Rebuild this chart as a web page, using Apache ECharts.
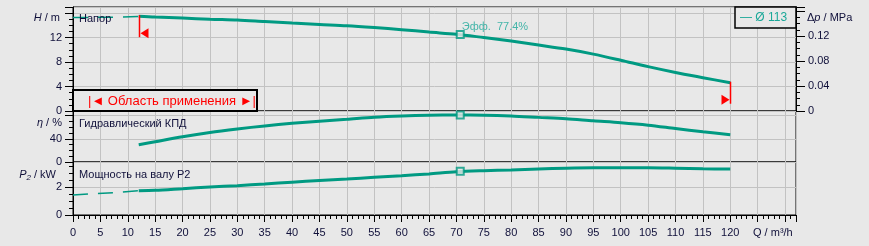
<!DOCTYPE html>
<html>
<head>
<meta charset="utf-8">
<script src="https://cdn.jsdelivr.net/npm/echarts@6/dist/echarts.min.js"></script>
<style>
  html, body { margin: 0; padding: 0; background: #e8e8e8; }
  #chart { width: 869px; height: 246px; }
</style>
</head>
<body>
<div id="chart"></div>
<script>
// pump curves Ø 113: head, hydraulic efficiency, shaft power vs flow
var qMain = [12, 15, 20, 25, 30, 35, 40, 45, 50, 55, 60, 65, 70, 75, 80, 85, 90, 95, 100, 105, 110, 115, 120];
var headMain = [15.5, 15.35, 15.2, 15.0, 14.86, 14.61, 14.37, 14.15, 13.95, 13.65, 13.3, 12.9, 12.55, 12.0, 11.43, 10.78, 10.12, 9.3, 8.3, 7.25, 6.3, 5.45, 4.62];
var effMain = [29.8, 35, 43.6, 51, 57, 62.3, 66.7, 70.5, 73.8, 77.3, 79.4, 80.6, 81, 80.8, 79.5, 77, 74.5, 71, 67.8, 63.6, 57.8, 52.2, 47];
var powerMain = [1.75, 1.78, 1.9, 2.02, 2.12, 2.24, 2.37, 2.49, 2.6, 2.72, 2.84, 2.97, 3.12, 3.2, 3.26, 3.32, 3.38, 3.41, 3.41, 3.41, 3.38, 3.34, 3.32];

// part of the curve outside the application range
var qLow = [0, 4, 8, 12];
var headLow = [15.3, 15.3, 15.35, 15.45];
var powerLow = [1.44, 1.55, 1.63, 1.75];

// duty point
var dutyQ = 70.7;
var dutyH = 12.5;
var dutyEta = 81;
var dutyP2 = 3.16;
var dutyText = 'Эфф.  77.4%';

// tick labels
var qLabelMax = 120;
var headLabels = [0, 4, 8, 12];
var dpLabels = [0, 0.04, 0.08, 0.12];
var effLabels = [0, 40];
var powerLabels = [0, 2];

var FONT = '"Liberation Sans", Arial, sans-serif';
var TEAL = '#009a82';
var TEAL_TXT = '#1aa898';
var GRID_C = '#c2c2c2';
var TXT = '#10103a';
var FS = 11;

function pairs(xs, ys) {
  return xs.map(function (x, i) { return [x, ys[i]]; });
}

function inList(list, v) {
  for (var i = 0; i < list.length; i++) {
    if (Math.abs(list[i] - v) < 1e-6) return true;
  }
  return false;
}

function xMain(grid, labels) {
  return {
    type: 'value', gridIndex: grid, min: 0, max: 132, interval: 5,
    axisLine: { show: labels, lineStyle: { color: '#000' } },
    axisTick: { show: labels, length: 7, lineStyle: { color: '#000' } },
    axisLabel: {
      show: labels, margin: 12, color: TXT, fontSize: FS, fontFamily: FONT,
      formatter: function (v) { return v <= qLabelMax ? String(v) : ''; }
    },
    splitLine: { show: true, lineStyle: { color: GRID_C } }
  };
}

function yMain(grid, pos, max, step, list, fmt, tickLen) {
  return {
    type: 'value', gridIndex: grid, position: pos, min: 0, max: max, interval: step,
    axisLine: { show: true, lineStyle: { color: '#000' } },
    axisTick: { show: true, length: tickLen, lineStyle: { color: '#000' } },
    axisLabel: {
      margin: pos === 'left' ? 11 : 12, color: TXT, fontSize: FS, fontFamily: FONT,
      formatter: function (v) { return inList(list, v) ? fmt(v) : ''; }
    },
    splitLine: { show: pos === 'left', lineStyle: { color: GRID_C } }
  };
}

// second axis on the same side, only for the short ticks
function yMinor(grid, pos, max, step) {
  return {
    type: 'value', gridIndex: grid, position: pos, min: 0, max: max, interval: step,
    axisLine: { show: false },
    axisTick: { show: true, length: 4, lineStyle: { color: '#000' } },
    axisLabel: { show: false },
    splitLine: { show: false }
  };
}

function num(v) { return String(v); }
function mpa(v) { return v === 0 ? '0' : v.toFixed(2); }

function italicTitle(x, y, text, align) {
  return {
    type: 'text', z: 11, x: x, y: y,
    style: {
      text: text, align: align, verticalAlign: 'middle', fill: TXT, fontSize: FS, fontFamily: FONT,
      rich: {
        i: { fontStyle: 'italic', fontSize: FS, fontFamily: FONT, fill: TXT },
        s: { fontStyle: 'italic', fontSize: 8, fontFamily: FONT, fill: TXT, padding: [5, 0, 0, 0] }
      }
    }
  };
}

var chart = echarts.init(document.getElementById('chart'));

var option = {
  backgroundColor: '#e8e8e8',
  animation: false,
  grid: [
    { left: 73, right: 73, top: 7, height: 104, show: true, borderColor: '#000', borderWidth: 1 },
    { left: 73, right: 73, top: 111, height: 51, show: true, borderColor: '#000', borderWidth: 1 },
    { left: 73, right: 73, top: 162, height: 53, show: true, borderColor: '#000', borderWidth: 1 }
  ],
  xAxis: [
    xMain(0, false),
    xMain(1, false),
    xMain(2, true),
    {
      type: 'value', gridIndex: 2, position: 'bottom', min: 0, max: 132, interval: 1,
      axisLine: { show: false },
      axisTick: { show: true, length: 4, lineStyle: { color: '#000' } },
      axisLabel: { show: false },
      splitLine: { show: false }
    }
  ],
  yAxis: [
    yMain(0, 'left', 17, 4, headLabels, num, 8),
    yMinor(0, 'left', 17, 1),
    yMain(0, 'right', 0.1666, 0.04, dpLabels, mpa, 9),
    yMinor(0, 'right', 0.1666, 0.01),
    yMain(1, 'left', 88, 40, effLabels, num, 8),
    yMinor(1, 'left', 88, 10),
    yMain(2, 'left', 3.83, 2, powerLabels, num, 8),
    yMinor(2, 'left', 3.83, 0.5)
  ],
  series: [
    {
      name: 'H low', type: 'line', xAxisIndex: 0, yAxisIndex: 0, data: pairs(qLow, headLow),
      showSymbol: false, lineStyle: { color: TEAL, width: 1.5, type: [15, 10] }
    },
    {
      name: 'Ø 113', type: 'line', xAxisIndex: 0, yAxisIndex: 0, data: pairs(qMain, headMain),
      showSymbol: false, smooth: 0.3, lineStyle: { color: TEAL, width: 3 }
    },
    {
      name: 'eta', type: 'line', xAxisIndex: 1, yAxisIndex: 4, data: pairs(qMain, effMain),
      showSymbol: false, smooth: 0.3, lineStyle: { color: TEAL, width: 3 }
    },
    {
      name: 'P2 low', type: 'line', xAxisIndex: 2, yAxisIndex: 6, data: pairs(qLow, powerLow),
      showSymbol: false, lineStyle: { color: TEAL, width: 1.5, type: [15, 10] }
    },
    {
      name: 'P2', type: 'line', xAxisIndex: 2, yAxisIndex: 6, data: pairs(qMain, powerMain),
      showSymbol: false, smooth: 0.3, lineStyle: { color: TEAL, width: 3 }
    },
    {
      type: 'scatter', xAxisIndex: 0, yAxisIndex: 0, data: [[dutyQ, dutyH]], z: 5,
      symbol: 'rect', symbolSize: 7,
      itemStyle: { color: '#e8e8e8', borderColor: TEAL, borderWidth: 2 },
      label: {
        show: true, position: [6, -9], formatter: dutyText,
        color: TEAL_TXT, fontSize: FS, fontFamily: FONT
      }
    },
    {
      type: 'scatter', xAxisIndex: 1, yAxisIndex: 4, data: [[dutyQ, dutyEta]], z: 5,
      symbol: 'rect', symbolSize: 7,
      itemStyle: { color: '#e8e8e8', borderColor: TEAL, borderWidth: 2 }
    },
    {
      type: 'scatter', xAxisIndex: 2, yAxisIndex: 6, data: [[dutyQ, dutyP2]], z: 5,
      symbol: 'rect', symbolSize: 7,
      itemStyle: { color: '#e8e8e8', borderColor: TEAL, borderWidth: 2 }
    },
    {
      // red limits of the application range
      type: 'custom', xAxisIndex: 0, yAxisIndex: 0, z: 6,
      data: [
        [qMain[0], headMain[0], -1],
        [qMain[qMain.length - 1], headMain[headMain.length - 1], 1]
      ],
      renderItem: function (params, api) {
        var p = api.coord([api.value(0), api.value(1)]);
        var d = api.value(2);
        var x = Math.round(p[0]) + 0.5;
        var y0 = p[1] - 1;
        return {
          type: 'group',
          children: [
            { type: 'line', shape: { x1: x, y1: y0, x2: x, y2: y0 + 22 }, style: { stroke: '#ff0000', lineWidth: 1.5 } },
            {
              type: 'polygon',
              shape: { points: [[x - d, y0 + 18], [x - d * 9, y0 + 13], [x - d * 9, y0 + 23]] },
              style: { fill: '#ff0000' }
            }
          ]
        };
      }
    }
  ],
  graphic: [
    { type: 'rect', z: 10, shape: { x: 73, y: 90, width: 184, height: 21 }, style: { fill: '#e8e8e8', stroke: '#000', lineWidth: 2 } },
    { type: 'text', z: 11, x: 88, y: 101, style: { text: '|◄ Область применения ►|', fill: '#ff0000', font: '13px ' + FONT, verticalAlign: 'middle' } },

    { type: 'rect', z: 10, shape: { x: 735, y: 7, width: 61, height: 21 }, style: { fill: '#e8e8e8', stroke: '#000', lineWidth: 1.5 } },
    { type: 'text', z: 11, x: 740, y: 17.5, style: { text: '— Ø 113', fill: TEAL_TXT, font: '12px ' + FONT, verticalAlign: 'middle' } },

    { type: 'text', z: 11, x: 79, y: 19, style: { text: 'Напор', fill: TXT, font: FS + 'px ' + FONT, verticalAlign: 'middle' } },
    { type: 'text', z: 11, x: 79, y: 124, style: { text: 'Гидравлический КПД', fill: TXT, font: FS + 'px ' + FONT, verticalAlign: 'middle' } },
    { type: 'text', z: 11, x: 79, y: 175, style: { text: 'Мощность на валу P2', fill: TXT, font: FS + 'px ' + FONT, verticalAlign: 'middle' } },

    italicTitle(60, 18, '{i|H} / m', 'right'),
    italicTitle(62, 123, '{i|η} / %', 'right'),
    italicTitle(56, 175, '{i|P}{s|2} / kW', 'right'),
    italicTitle(807, 17.5, 'Δ{i|p} / MPa', 'left'),
    { type: 'text', z: 11, x: 753, y: 233, style: { text: 'Q / m³/h', fill: TXT, font: FS + 'px ' + FONT, verticalAlign: 'middle' } }
  ]
};

chart.setOption(option);
</script>
</body>
</html>
